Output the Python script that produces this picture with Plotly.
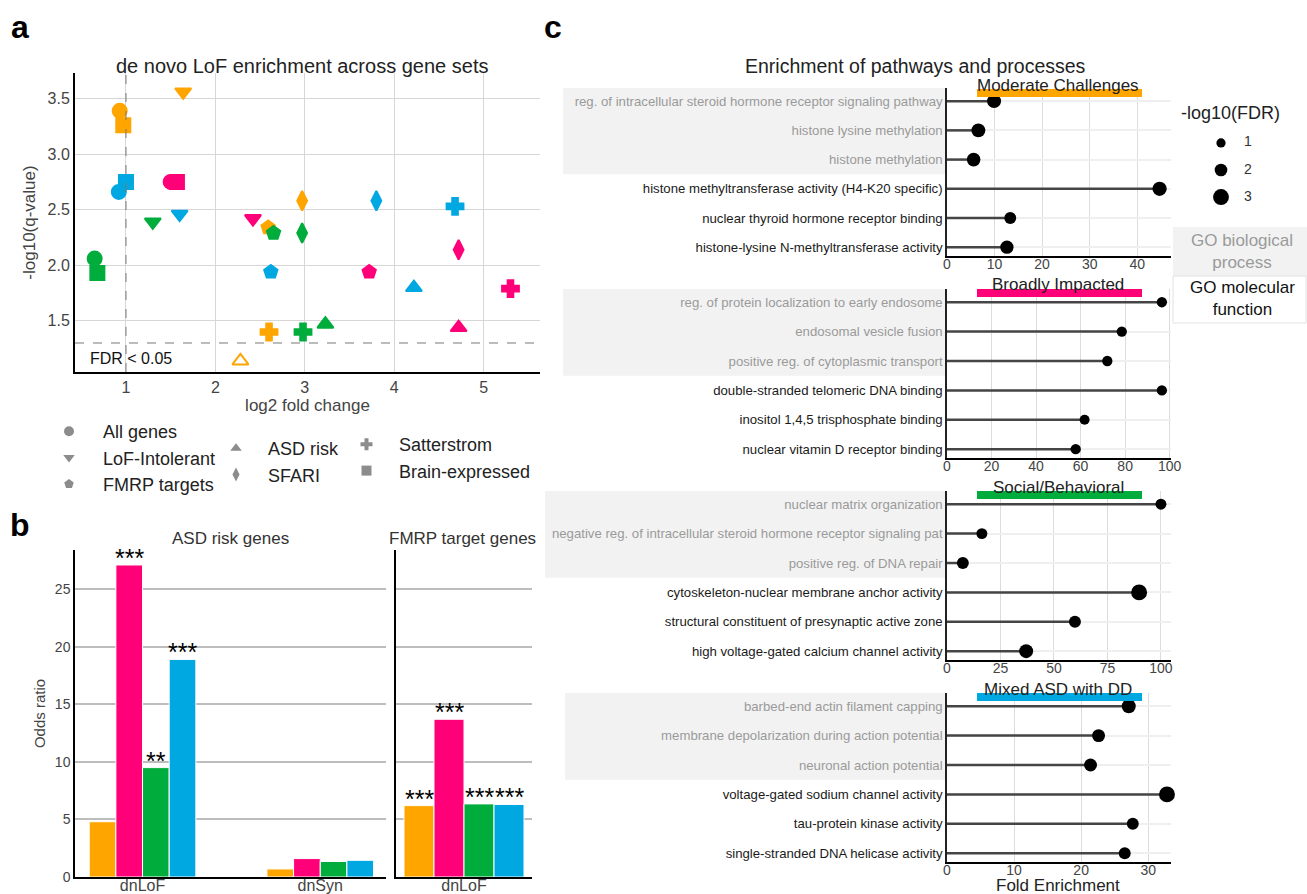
import math
import plotly.graph_objects as go

W, H = 1307, 894


def px(x):
    return x / W


def py(y):
    return 1 - y / H


# ---------------- data ----------------
ORANGE, PINK, GREEN, BLUE = "#FFA500", "#FF0078", "#00AD3C", "#00A8E1"
class_names = ["Moderate Challenges", "Broadly Impacted", "Social/Behavioral", "Mixed ASD with DD"]
class_colors = [ORANGE, PINK, GREEN, BLUE]

gene_sets = ["All genes", "LoF-Intolerant", "FMRP targets", "ASD risk", "SFARI", "Satterstrom", "Brain-expressed"]
gene_symbols = ["circle", "triangle-down", "pentagon", "triangle-up", "diamond-tall", "cross", "square"]

# panel a: log2 fold change and -log10(q) per class, in gene_sets order
l2fc_moderate = [0.93, 1.64, 2.59, 2.28, 2.97, 2.60, 0.97]
nlq_moderate = [3.39, 3.56, 2.34, 1.14, 2.58, 1.40, 3.26]
l2fc_broad = [1.50, 2.42, 3.72, 4.72, 4.72, 5.30, 1.57]
nlq_broad = [2.75, 2.42, 1.94, 1.44, 2.14, 1.79, 2.75]
l2fc_social = [0.65, 1.30, 2.65, 3.23, 2.97, 2.98, 0.68]
nlq_social = [2.06, 2.39, 2.29, 1.47, 2.29, 1.40, 1.93]
l2fc_mixed = [0.92, 1.60, 2.62, 4.22, 3.80, 4.68, 1.00]
nlq_mixed = [2.66, 2.46, 1.94, 1.80, 2.58, 2.53, 2.75]
FDR_THRESHOLD = 0.05
FC_REFERENCE = 1

# panel b: odds ratios
variant_classes = ["dnLoF", "dnSyn"]
or_asd_moderate = [4.8, 0.7]
or_asd_broad = [27.1, 1.6]
or_asd_social = [9.5, 1.35]
or_asd_mixed = [18.9, 1.45]
stars_asd_moderate = ["", ""]
stars_asd_broad = ["***", ""]
stars_asd_social = ["**", ""]
stars_asd_mixed = ["***", ""]
fmrp_classes = ["dnLoF"]
or_fmrp_moderate = [6.2]
or_fmrp_broad = [13.7]
or_fmrp_social = [6.35]
or_fmrp_mixed = [6.3]
stars_fmrp = ["***", "***", "***", "***"]

# panel c: GO enrichment
go_types = ["BP", "BP", "BP", "MF", "MF", "MF"]
terms_moderate = [
    "reg. of intracellular steroid hormone receptor signaling pathway",
    "histone lysine methylation",
    "histone methylation",
    "histone methyltransferase activity (H4-K20 specific)",
    "nuclear thyroid hormone receptor binding",
    "histone-lysine N-methyltransferase activity",
]
fe_moderate = [9.9, 6.6, 5.6, 44.7, 13.3, 12.6]
fdr_moderate = [2.4, 2.4, 2.3, 2.5, 1.8, 2.2]
terms_broad = [
    "reg. of protein localization to early endosome",
    "endosomal vesicle fusion",
    "positive reg. of cytoplasmic transport",
    "double-stranded telomeric DNA binding",
    "inositol 1,4,5 trisphosphate binding",
    "nuclear vitamin D receptor binding",
]
fe_broad = [96.5, 78.5, 72.0, 96.5, 61.8, 57.8]
fdr_broad = [1.3, 1.3, 1.3, 1.3, 1.2, 1.3]
terms_social = [
    "nuclear matrix organization",
    "negative reg. of intracellular steroid hormone receptor signaling pat",
    "positive reg. of DNA repair",
    "cytoskeleton-nuclear membrane anchor activity",
    "structural constituent of presynaptic active zone",
    "high voltage-gated calcium channel activity",
]
fe_social = [100.0, 16.3, 7.4, 89.8, 59.8, 37.0]
fdr_social = [1.5, 1.5, 1.8, 3.0, 1.8, 2.4]
terms_mixed = [
    "barbed-end actin filament capping",
    "membrane depolarization during action potential",
    "neuronal action potential",
    "voltage-gated sodium channel activity",
    "tau-protein kinase activity",
    "single-stranded DNA helicase activity",
]
fe_mixed = [27.1, 22.6, 21.4, 32.8, 27.7, 26.5]
fdr_mixed = [2.4, 2.1, 2.1, 3.0, 1.8, 1.8]
fdr_legend_values = [1, 2, 3]
fe_ticks = [[0, 10, 20, 30, 40], [0, 20, 40, 60, 80, 100], [0, 25, 50, 75, 100], [0, 10, 20, 30]]
fe_ranges = [[0, 47.1], [0, 100.6], [0, 104.7], [0, 33.4]]


def fdr_size(v):
    return 6 + 3.3 * v


FONT = "Liberation Sans, Arial, sans-serif"
BARGAP = 0.4
fig = go.Figure()

# ---------------- panel a ----------------
a_x = [l2fc_moderate, l2fc_broad, l2fc_social, l2fc_mixed]
a_y = [nlq_moderate, nlq_broad, nlq_social, nlq_mixed]
fdr_line = -math.log10(FDR_THRESHOLD)
for name, col, xs, ys in zip(class_names, class_colors, a_x, a_y):
    syms = [s if y >= fdr_line else s + "-open" for s, y in zip(gene_symbols, ys)]
    fig.add_trace(go.Scatter(
        x=xs, y=ys, mode="markers", name=name, showlegend=False,
        marker=dict(symbol=syms, color=col, size=14, opacity=1, line=dict(width=2, color=col)),
        xaxis="x", yaxis="y", text=gene_sets, hovertemplate="%{text}<extra>" + name + "</extra>",
    ))

legend_cols = ["legend", "legend", "legend", "legend2", "legend2", "legend3", "legend3"]
for gs, sym, lg in zip(gene_sets, gene_symbols, legend_cols):
    fig.add_trace(go.Scatter(
        x=[None], y=[None], mode="markers", name=gs, legend=lg, legendgroup=gs,
        marker=dict(symbol=sym, color="#8c8c8c", size=10), xaxis="x", yaxis="y",
    ))

# ---------------- panel b ----------------
asd_or = [or_asd_moderate, or_asd_broad, or_asd_social, or_asd_mixed]
asd_stars = [stars_asd_moderate, stars_asd_broad, stars_asd_social, stars_asd_mixed]
fmrp_or = [or_fmrp_moderate, or_fmrp_broad, or_fmrp_social, or_fmrp_mixed]
for i, (name, col) in enumerate(zip(class_names, class_colors)):
    fig.add_trace(go.Bar(
        x=variant_classes, y=asd_or[i], name=name, showlegend=False,
        marker=dict(color=col, line=dict(color="white", width=1)),
        xaxis="x2", yaxis="y2", offsetgroup=str(i),
    ))
    fig.add_trace(go.Bar(
        x=fmrp_classes, y=fmrp_or[i], name=name, showlegend=False,
        marker=dict(color=col, line=dict(color="white", width=1)),
        xaxis="x3", yaxis="y3", offsetgroup=str(i),
    ))

# significance stars placed on top of each bar (bar centre within its group)
n_cls = len(class_names)
bar_w = (1 - BARGAP) / n_cls
star_ann = []
for i in range(n_cls):
    off = (i - (n_cls - 1) / 2) * bar_w
    for j, (v, s) in enumerate(zip(asd_or[i], asd_stars[i])):
        if s:
            star_ann.append(dict(text=s, x=j + off, y=v, xref="x2", yref="y2", showarrow=False,
                                 xanchor="center", yanchor="bottom", yshift=-9,
                                 font=dict(size=25, color="black")))
    for j, v in enumerate(fmrp_or[i]):
        star_ann.append(dict(text=stars_fmrp[i], x=j + off, y=v, xref="x3", yref="y3", showarrow=False,
                             xanchor="center", yanchor="bottom", yshift=-9,
                             font=dict(size=25, color="black")))

# ---------------- panel c ----------------
c_terms = [terms_moderate, terms_broad, terms_social, terms_mixed]
c_fe = [fe_moderate, fe_broad, fe_social, fe_mixed]
c_fdr = [fdr_moderate, fdr_broad, fdr_social, fdr_mixed]
for k in range(4):
    xa, ya = "x%d" % (k + 4), "y%d" % (k + 4)
    lx, ly = [], []
    for i, v in enumerate(c_fe[k]):
        lx += [0, v, None]
        ly += [i, i, None]
    fig.add_trace(go.Scatter(x=lx, y=ly, mode="lines", line=dict(color="#454545", width=2.5),
                             showlegend=False, hoverinfo="skip", xaxis=xa, yaxis=ya, cliponaxis=False))
    fig.add_trace(go.Scatter(x=c_fe[k], y=list(range(len(c_fe[k]))), mode="markers",
                             marker=dict(color="black", size=[fdr_size(f) for f in c_fdr[k]], opacity=1,
                                         line=dict(width=0)),
                             showlegend=False, xaxis=xa, yaxis=ya, cliponaxis=False,
                             text=c_terms[k], hovertemplate="%{text}: %{x}<extra></extra>"))

# size key for -log10(FDR), drawn on its own hidden axes
fig.add_trace(go.Scatter(x=[0.5] * len(fdr_legend_values), y=fdr_legend_values, mode="markers",
                         marker=dict(color="black", size=[fdr_size(v) for v in fdr_legend_values], opacity=1,
                                     line=dict(width=0)),
                         showlegend=False, hoverinfo="skip", xaxis="x8", yaxis="y8", cliponaxis=False))
fig.add_trace(go.Scatter(x=[1.85] * len(fdr_legend_values), y=fdr_legend_values, mode="text",
                         text=[str(v) for v in fdr_legend_values], textposition="middle center",
                         textfont=dict(size=14, color="#333"),
                         showlegend=False, hoverinfo="skip", xaxis="x8", yaxis="y8", cliponaxis=False))

# ---------------- layout ----------------
layout = dict(
    width=W, height=H, margin=dict(l=0, r=0, t=0, b=0, autoexpand=False),
    paper_bgcolor="white", plot_bgcolor="white",
    font=dict(family=FONT, color="#222"),
    barmode="group", bargap=BARGAP, bargroupgap=0,
    showlegend=True,
)

# panel a axes
layout["xaxis"] = dict(domain=[px(75), px(540)], range=[0.43, 5.63], tickvals=[1, 2, 3, 4, 5],
                       showgrid=True, gridcolor="#d6d6d6", zeroline=False, showline=True, linecolor="black",
                       linewidth=2, ticks="", tickfont=dict(size=16, color="#444"),
                       title=dict(text="log2 fold change", font=dict(size=17, color="#444"), standoff=4), anchor="y")
layout["yaxis"] = dict(domain=[py(372), py(73)], range=[1.04, 3.73], tickvals=[1.5, 2.0, 2.5, 3.0, 3.5],
                       tickformat=".1f", showgrid=True, gridcolor="#d6d6d6", zeroline=False, showline=True,
                       linecolor="black", linewidth=2, ticks="", tickfont=dict(size=16, color="#444"),
                       title=dict(text="-log10(q-value)", font=dict(size=17, color="#444"), standoff=8), anchor="x")

# panel b axes
layout["xaxis2"] = dict(domain=[px(75), px(386)], type="category", range=[-0.38, 1.37], showgrid=False,
                        showline=True, linecolor="black", linewidth=2, ticks="", tickfont=dict(size=16, color="#444"),
                        ticklabelstandoff=-7, anchor="y2")
layout["yaxis2"] = dict(domain=[py(877), py(550)], range=[0, 28.4], tickvals=[0, 5, 10, 15, 20, 25],
                        showgrid=True, gridcolor="#bdbdbd", gridwidth=1.5, zeroline=False, showline=True,
                        linecolor="black", linewidth=1.5, ticks="", tickfont=dict(size=14, color="#444"),
                        title=dict(text="Odds ratio", font=dict(size=15, color="#444"), standoff=6), anchor="x2")
layout["xaxis3"] = dict(domain=[px(396), px(532)], type="category", range=[-0.34, 0.34], showgrid=False,
                        showline=True, linecolor="black", linewidth=2, ticks="", tickfont=dict(size=16, color="#444"),
                        ticklabelstandoff=-7, anchor="y3")
layout["yaxis3"] = dict(domain=[py(877), py(550)], range=[0, 28.4], tickvals=[0, 5, 10, 15, 20, 25],
                        showgrid=True, gridcolor="#bdbdbd", gridwidth=1.5, zeroline=False, showline=True,
                        linecolor="black", linewidth=1.5, showticklabels=False, ticks="", anchor="x3")

# panel c axes
c_tops = [88, 289, 491, 693]
c_bottoms = [256, 458, 660, 862]
for k in range(4):
    n = len(c_terms[k])
    labels = []
    for t, g in zip(c_terms[k], go_types):
        colr = "#9a9a9a" if g == "BP" else "#1a1a1a"
        labels.append('<span style="color:%s">%s</span>' % (colr, t))
    layout["xaxis%d" % (k + 4)] = dict(domain=[px(947), px(1171)], range=fe_ranges[k], tickvals=fe_ticks[k],
                                       showgrid=True, gridcolor="#dcdcdc", zeroline=False, showline=True,
                                       linecolor="black", linewidth=2, ticks="", ticklabelstandoff=-6,
                                       tickfont=dict(size=14, color="#444"), anchor="y%d" % (k + 4))
    layout["yaxis%d" % (k + 4)] = dict(domain=[py(c_bottoms[k]), py(c_tops[k])], range=[n - 0.7, -0.45],
                                       tickvals=list(range(n)), ticktext=labels, showgrid=True,
                                       gridcolor="#efefef", gridwidth=2, zeroline=False, showline=True,
                                       linecolor="#222", linewidth=1.5, ticks="",
                                       tickfont=dict(size=13.2, color="#222"), anchor="x%d" % (k + 4))

# hidden axes for the size key
layout["xaxis8"] = dict(domain=[px(1211), px(1253)], range=[0, 2.1], visible=False, anchor="y8")
layout["yaxis8"] = dict(domain=[py(210), py(130)], range=[3.48, 0.52], visible=False, anchor="x8")

for key in list(layout.keys()):
    if key.startswith("xaxis") or key.startswith("yaxis"):
        layout[key]["automargin"] = False

# legends (panel a gene-set key)
leg_common = dict(bgcolor="rgba(0,0,0,0)", font=dict(size=18, color="#222"), xanchor="left", yanchor="top",
                  tracegroupgap=0, itemsizing="trace", itemwidth=58)
layout["legend"] = dict(leg_common, x=px(35), y=py(413))
layout["legend2"] = dict(leg_common, x=px(204), y=py(430), itemwidth=54)
layout["legend3"] = dict(leg_common, x=px(334), y=py(426), itemwidth=55)

shapes = []
# panel a reference lines
shapes.append(dict(type="line", xref="x", yref="y domain", x0=FC_REFERENCE, x1=FC_REFERENCE, y0=0, y1=1,
                   line=dict(color="#777", width=1, dash="dash")))
shapes.append(dict(type="line", xref="x domain", yref="y", x0=0, x1=1, y0=fdr_line, y1=fdr_line,
                   line=dict(color="#777", width=1, dash="dash")))
# panel c: BP shading and coloured title bars
shade_left = [563, 563, 545, 565]
bar_y = [93, 293, 495, 697]
for k in range(4):
    nbp = sum(1 for g in go_types if g == "BP")
    shapes.append(dict(type="rect", xref="paper", yref="y%d" % (k + 4), x0=px(shade_left[k]), x1=px(946),
                       y0=-0.45, y1=nbp - 0.5, fillcolor="#f2f2f2", line=dict(width=0), layer="below"))
    shapes.append(dict(type="rect", xref="paper", yref="paper", x0=px(977), x1=px(1142),
                       y0=py(bar_y[k] + 4), y1=py(bar_y[k] - 4), fillcolor=class_colors[k], line=dict(width=0)))
# GO-type key boxes
shapes.append(dict(type="rect", xref="paper", yref="paper", x0=px(1173), x1=px(1307), y0=py(276), y1=py(227),
                   fillcolor="#f2f2f2", line=dict(width=0)))
shapes.append(dict(type="rect", xref="paper", yref="paper", x0=px(1173), x1=px(1306), y0=py(323), y1=py(276),
                   fillcolor="white", line=dict(color="#e2e2e2", width=1)))
layout["shapes"] = shapes


def note(text, x, y, size, color="#222", xanchor="center", **kw):
    return dict(text=text, x=px(x), y=py(y), xref="paper", yref="paper", showarrow=False,
                xanchor=xanchor, yanchor="middle", font=dict(size=size, color=color), **kw)


ann = [
    note("<b>a</b>", 20, 27, 32, "black"),
    note("<b>b</b>", 20, 525, 32, "black"),
    note("<b>c</b>", 553, 27, 32, "black"),
    note("de novo LoF enrichment across gene sets", 302, 66, 20),
    note("FDR < 0.05", 88, 358, 16, "#111", xanchor="left"),
    note("ASD risk genes", 230, 538, 17, "#333"),
    note("FMRP target genes", 462, 538, 17, "#333"),
    note("Enrichment of pathways and processes", 915, 66, 19.5),
    note("-log10(FDR)", 1230, 113, 18),
    note("GO biological<br>process", 1242, 251, 17, "#9a9a9a"),
    note("GO molecular<br>function", 1242, 299, 17, "#111"),
    note("Fold Enrichment", 1058, 885, 17),
]
title_y = [85, 285, 487, 689]
for k in range(4):
    ann.append(note(class_names[k], 1058, title_y[k], 17))
layout["annotations"] = ann + star_ann

fig.update_layout(**layout)
fig.write_html(
    "out.html",
    config={"displayModeBar": False},
    post_script=("document.documentElement.style.margin='0px';document.body.style.margin='0px';"
                 "document.documentElement.style.overflow='hidden';document.body.style.overflow='hidden';"),
)
